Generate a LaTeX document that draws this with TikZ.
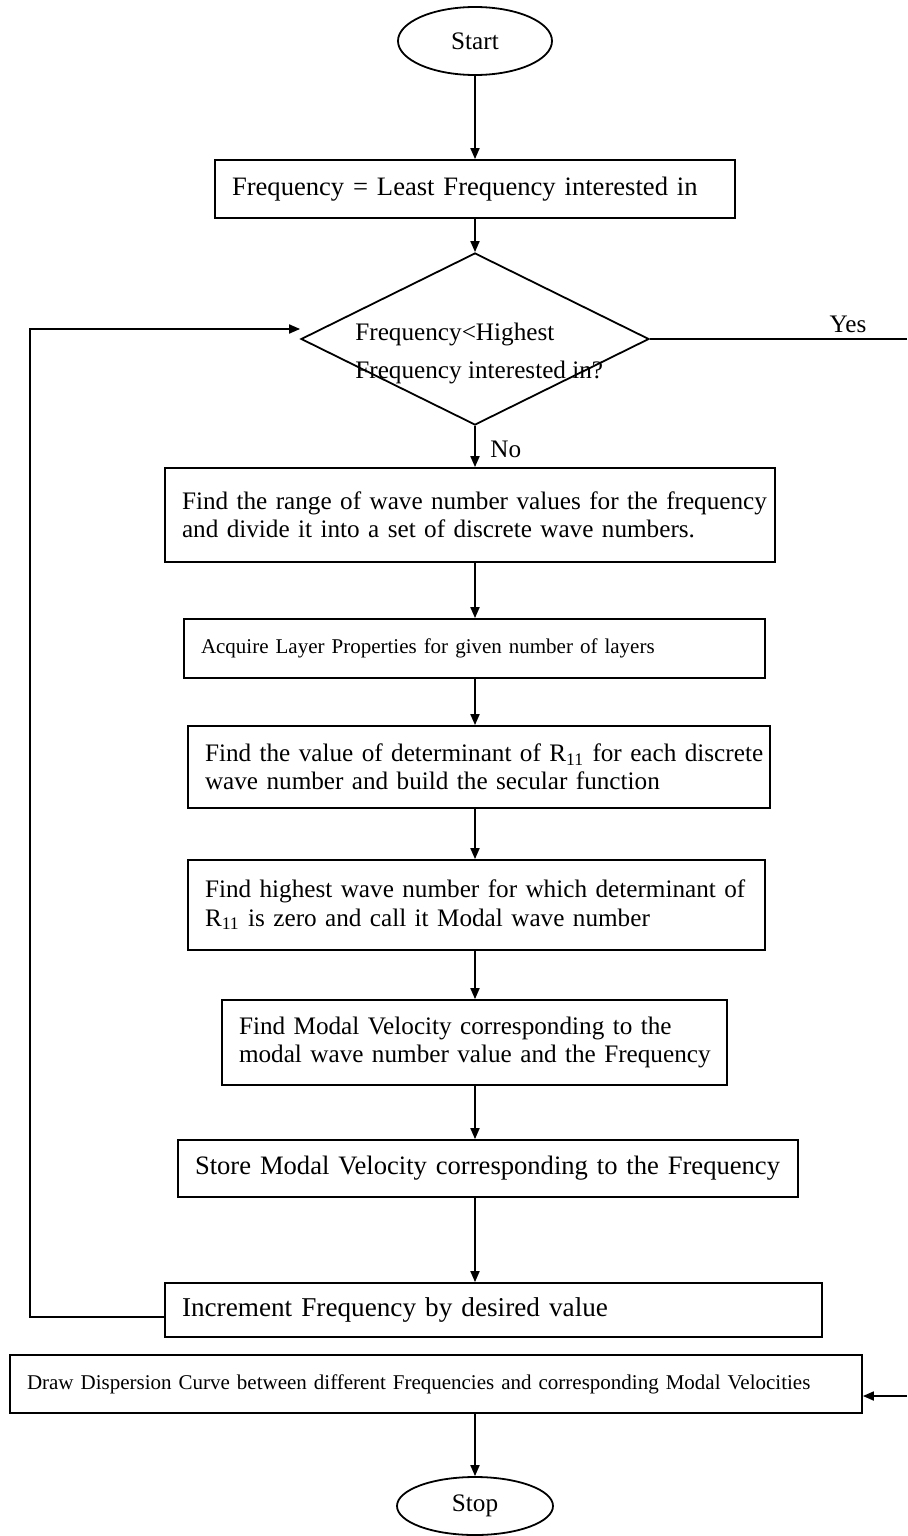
\documentclass[tikz,border=0pt]{standalone}
\usepackage{fontspec}
\setmainfont{Liberation Serif}
\usetikzlibrary{shapes.geometric,arrows.meta}
\newcommand\mainsz{\fontsize{12.6}{14.2}\selectfont}
\newcommand\bigsz{\fontsize{13.3}{15}\selectfont}
\newcommand\biggsz{\fontsize{13.6}{15.4}\selectfont}
\newcommand\smallsz{\fontsize{10.5}{12.6}\selectfont}
\begin{document}
\begin{tikzpicture}[x=0.5pt,y=-0.5pt,
  every node/.style={font=\mainsz},
  box/.style={draw, line width=0.9pt, rectangle, inner xsep=8.5pt, inner ysep=0pt, align=left},
  term/.style={draw, line width=0.9pt, ellipse, inner sep=0pt},
  arr/.style={line width=0.9pt, -{Triangle[length=5.5pt,width=4.5pt]}},
  ln/.style={line width=0.9pt}]
\useasboundingbox (0,0) rectangle (907,1536);
\fill[white] (0,0) rectangle (907,1536);
\coordinate (col) at (475,0);

\node[term, minimum width=77pt, minimum height=34pt] (start) at (475,41) {Start};
\node[box, minimum width=260pt, minimum height=29pt, text width=243pt, font=\bigsz] (freq) at (475,189)
  {\mbox{Frequency = Least Frequency interested in}};
\node[diamond, draw, line width=0.9pt, minimum width=174pt, minimum height=86pt, inner sep=0pt] (dia) at (475,339) {};
\node[anchor=base west, inner sep=0pt] (dt1) at (355,340) {Frequency<Highest};
\node[anchor=base west, inner sep=0pt] (dt2) at (355,378) {Frequency interested in?};
\node[anchor=base, inner sep=0pt] (yes) at (848,332) {Yes};
\node[anchor=base west, inner sep=0pt] (no) at (490,457) {No};

\node[box, minimum width=305pt, minimum height=47pt, text width=288pt] (range) at (470,515)
  {\mbox{Find the range of wave number values for the frequency}\\\mbox{and divide it into a set of discrete wave numbers.}};
\node[box, minimum width=290.5pt, minimum height=29.5pt, text width=273.5pt, font=\smallsz] (acq) at (474.5,648.5)
  {\mbox{Acquire Layer Properties for given number of layers}};
\node[box, minimum width=291pt, minimum height=41pt, text width=274pt] (det) at (479,767)
  {\mbox{Find the value of determinant of R\textsubscript{11} for each discrete}\\\mbox{wave number and build the secular function}};
\node[box, minimum width=288.5pt, minimum height=45pt, text width=271.5pt] (high) at (476.5,905)
  {\mbox{Find highest wave number for which determinant of}\\\mbox{R\textsubscript{11} is zero and call it Modal wave number}};
\node[box, minimum width=252.5pt, minimum height=42.5pt, text width=235.5pt] (modal) at (474.5,1042.5)
  {\mbox{Find Modal Velocity corresponding to the}\\\mbox{modal wave number value and the Frequency}};
\node[box, minimum width=310pt, minimum height=28.5pt, text width=293pt, font=\bigsz] (store) at (488,1168.5)
  {\mbox{Store Modal Velocity corresponding to the Frequency}};
\node[box, minimum width=328.5pt, minimum height=27pt, text width=311.5pt, font=\biggsz] (inc) at (493.5,1310)
  {\mbox{Increment Frequency by desired value}};
\node[box, minimum width=426pt, minimum height=29pt, text width=409pt, font=\smallsz] (disp) at (436,1384)
  {\mbox{Draw Dispersion Curve between different Frequencies and corresponding Modal Velocities}};
\node[term, minimum width=78pt, minimum height=29pt] (stop) at (475,1506) {Stop};

\draw[arr] (start.south) -- (freq.north -| col);
\draw[arr] (freq.south -| col) -- (dia.north);
\draw[arr] (dia.south) -- (range.north -| col);
\draw[arr] (range.south -| col) -- (acq.north -| col);
\draw[arr] (acq.south -| col) -- (det.north -| col);
\draw[arr] (det.south -| col) -- (high.north -| col);
\draw[arr] (high.south -| col) -- (modal.north -| col);
\draw[arr] (modal.south -| col) -- (store.north -| col);
\draw[arr] (store.south -| col) -- (inc.north -| col);
\draw[arr] (disp.south -| col) -- (stop.north);

\coordinate (fb1) at (30,1317);
\coordinate (fb2) at (30,329);
\draw[arr] (inc.west |- fb1) -- (fb1) -- (fb2) -- (dia.west |- fb2);

\coordinate (yesend) at (907,339);
\draw[ln] (dia.east) -- (yesend);
\coordinate (yesin) at (907,1396);
\draw[arr] (yesin) -- (disp.east |- yesin);
\end{tikzpicture}
\end{document}
